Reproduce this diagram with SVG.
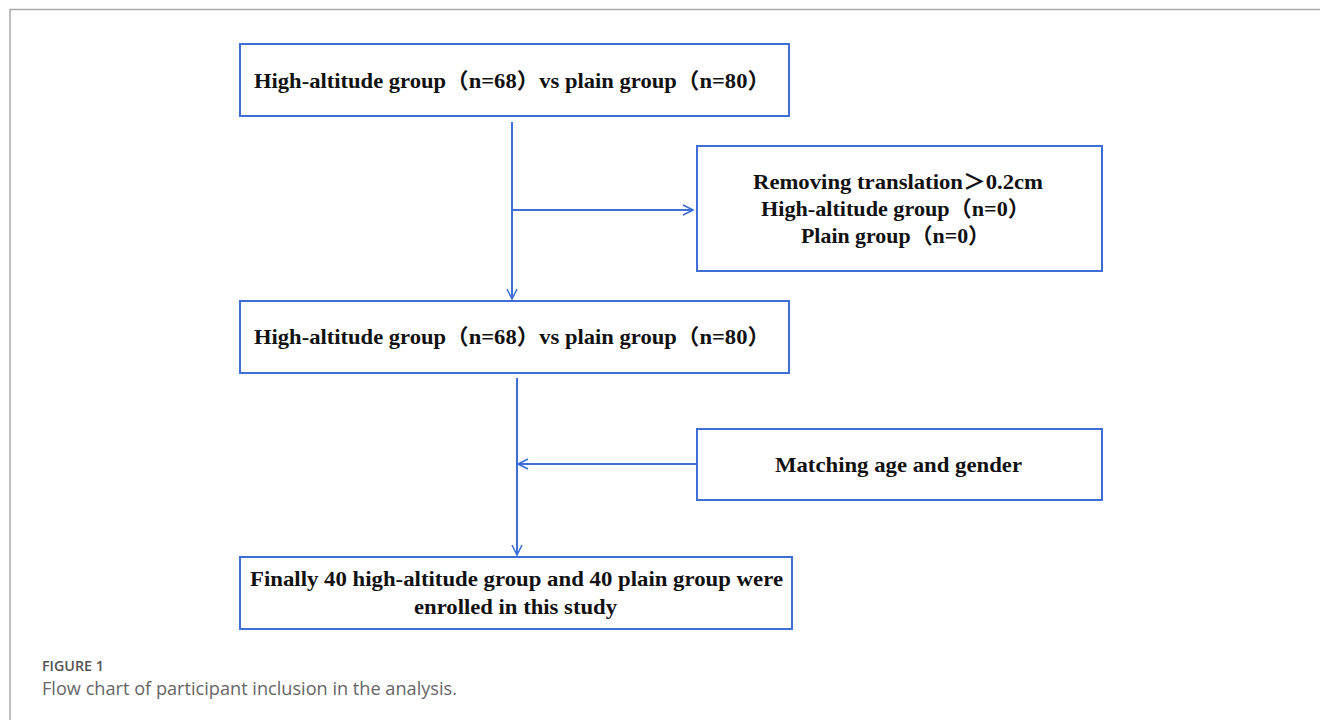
<svg xmlns="http://www.w3.org/2000/svg" width="1320" height="720" viewBox="0 0 1320 720">
<defs>
<style>
.box{fill:#fff;stroke:#3f6fd6;stroke-width:2}
.t{font-family:"Liberation Serif","Noto Sans CJK SC",serif;font-weight:bold;font-size:21.5px;fill:#111}
.c{stroke:#3f6fd6;stroke-width:2;fill:none}
.cap1{font-family:"Open Sans","Liberation Sans",sans-serif;font-weight:600;font-size:14.5px;fill:#555}
.cap2{font-family:"Open Sans","Liberation Sans",sans-serif;font-size:18px;fill:#666}
</style>
<marker id="arr" viewBox="0 0 12 12" refX="11" refY="6" markerWidth="12" markerHeight="12" markerUnits="userSpaceOnUse" orient="auto">
<path d="M1,1 L11,6 L1,11" fill="none" stroke="#3f6fd6" stroke-width="1.6"/>
</marker>
</defs>
<rect width="1320" height="720" fill="#fff"/>
<path d="M10,720 V9.5 H1320" fill="none" stroke="#aaa" stroke-width="1.5"/>
<g id="connectors">
<line class="c" x1="512" y1="122" x2="512" y2="299" marker-end="url(#arr)"/>
<line class="c" x1="512" y1="210" x2="693" y2="210" marker-end="url(#arr)"/>
<line class="c" x1="517" y1="378" x2="517" y2="555" marker-end="url(#arr)"/>
<line class="c" x1="697" y1="464" x2="518" y2="464" marker-end="url(#arr)"/>
</g>
<g id="node1">
<rect class="box" x="240" y="44" width="549" height="72"/>
<text class="t" x="254" y="88" textLength="516" lengthAdjust="spacingAndGlyphs">High-altitude group（n=68）vs plain group（n=80）</text>
</g>
<g id="node2">
<rect class="box" x="697" y="146" width="405" height="125"/>
<text class="t" x="753" y="189" textLength="290" lengthAdjust="spacingAndGlyphs">Removing translation＞0.2cm</text>
<text class="t" x="761" y="216" textLength="269" lengthAdjust="spacingAndGlyphs">High-altitude group（n=0）</text>
<text class="t" x="801" y="243" textLength="189" lengthAdjust="spacingAndGlyphs">Plain group（n=0）</text>
</g>
<g id="node3">
<rect class="box" x="240" y="301" width="549" height="72"/>
<text class="t" x="254" y="344" textLength="516" lengthAdjust="spacingAndGlyphs">High-altitude group（n=68）vs plain group（n=80）</text>
</g>
<g id="node4">
<rect class="box" x="697" y="429" width="405" height="71"/>
<text class="t" x="775" y="472" textLength="247" lengthAdjust="spacingAndGlyphs">Matching age and gender</text>
</g>
<g id="node5">
<rect class="box" x="240" y="557" width="552" height="72"/>
<text class="t" x="250" y="586" textLength="533" lengthAdjust="spacingAndGlyphs">Finally 40 high-altitude group and 40 plain group were</text>
<text class="t" x="414" y="614" textLength="203" lengthAdjust="spacingAndGlyphs">enrolled in this study</text>
</g>
<text class="cap1" x="42" y="671" textLength="62" lengthAdjust="spacingAndGlyphs">FIGURE 1</text>
<text class="cap2" x="42" y="695" textLength="415" lengthAdjust="spacingAndGlyphs">Flow chart of participant inclusion in the analysis.</text>
</svg>
